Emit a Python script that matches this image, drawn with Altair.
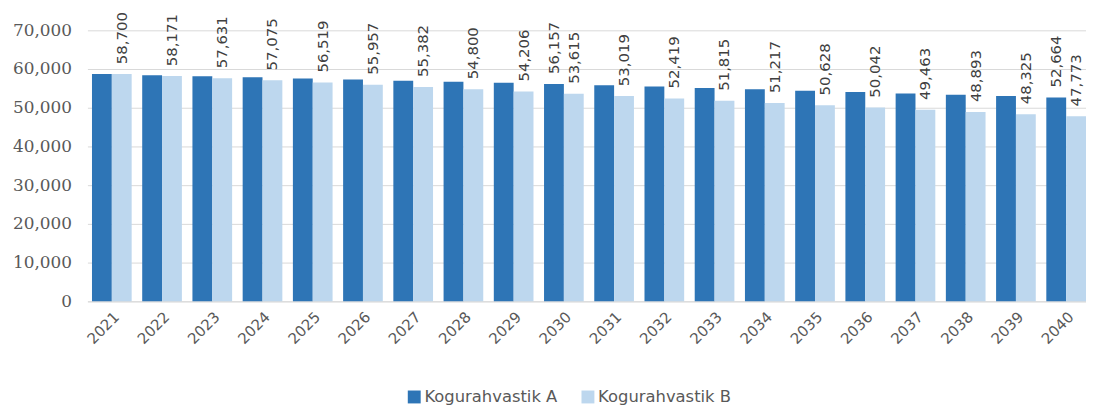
import altair as alt
import pandas as pd

years = [str(y) for y in range(2021, 2041)]
series_a = [58700, 58420, 58130, 57850, 57570, 57290, 57000, 56720, 56440, 56157,
            55800, 55460, 55110, 54760, 54410, 54060, 53710, 53360, 53010, 52664]
series_b = [58700, 58171, 57631, 57075, 56519, 55957, 55382, 54800, 54206, 53615,
            53019, 52419, 51815, 51217, 50628, 50042, 49463, 48893, 48325, 47773]
series_names = ["Kogurahvastik A", "Kogurahvastik B"]
a_label_years = ["2030", "2040"]

rows = []
for y, a, b in zip(years, series_a, series_b):
    rows.append({"year": y, "series": series_names[0], "value": a,
                 "show": y in a_label_years})
    rows.append({"year": y, "series": series_names[1], "value": b, "show": True})
df = pd.DataFrame(rows)

FONT = "DejaVu Sans, sans-serif"
SERIF = "DejaVu Serif, serif"
GRAY = "#595959"

x_enc = alt.X("year:N", sort=years,
              scale=alt.Scale(paddingInner=0.21, paddingOuter=0.0455, align=1),
              axis=alt.Axis(title=None, labelAngle=-45, labelFontSize=15,
                            labelColor=GRAY, labelFont=FONT, ticks=False,
                            domainColor="#D9D9D9", labelPadding=8))
xoff = alt.XOffset("series:N", sort=series_names, scale=alt.Scale(paddingInner=0))
y_enc = alt.Y("value:Q",
              scale=alt.Scale(domain=[0, 70000], nice=False),
              axis=alt.Axis(title=None, format=",.0f", values=list(range(0, 70001, 10000)),
                            labelFontSize=17, labelColor=GRAY, labelFont=SERIF,
                            domain=False, ticks=False, gridColor="#D9D9D9",
                            labelPadding=16))

bars = alt.Chart(df).mark_bar().encode(
    x=x_enc, xOffset=xoff, y=y_enc,
    color=alt.Color("series:N", sort=series_names,
                    scale=alt.Scale(domain=series_names, range=["#2E75B6", "#BDD7EE"]),
                    legend=alt.Legend(title=None, orient="none", direction="horizontal",
                                      legendX=321, legendY=361, symbolType="square",
                                      symbolSize=169, symbolStrokeWidth=0,
                                      labelFontSize=16.5, labelColor=GRAY, labelFont=FONT,
                                      labelOffset=2, columnPadding=22, symbolOffset=0)),
)

labels = alt.Chart(df).transform_filter("datum.show").mark_text(
    angle=270, align="left", baseline="middle", dx=10, fontSize=15,
    font=FONT, color="#404040"
).encode(
    x=x_enc, xOffset=xoff, y=y_enc, text=alt.Text("value:Q", format=",")
)

chart = alt.layer(bars, labels).properties(
    width=1006, height=273,
    autosize=alt.AutoSizeParams(type="none"),
    padding={"left": 80, "top": 21, "right": 0, "bottom": 105},
).configure_view(stroke=None)

chart.save("out.html", embed_options={"renderer": "svg", "actions": False})
